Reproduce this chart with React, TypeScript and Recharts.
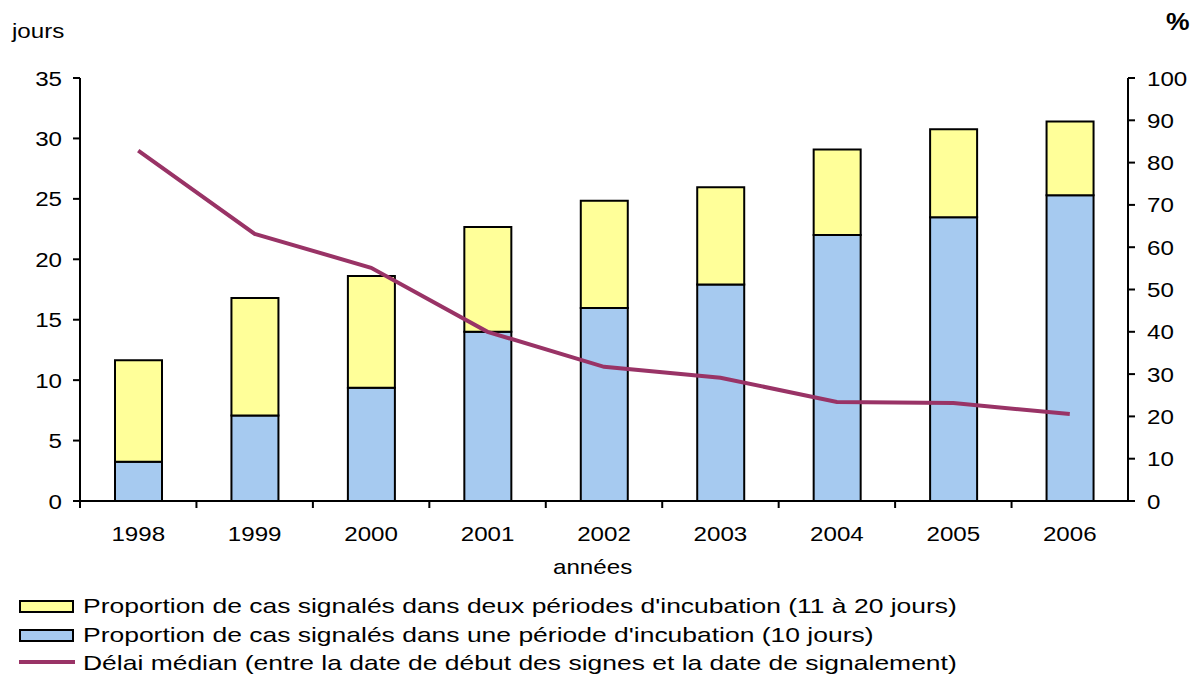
import { ComposedChart, Bar, Line, XAxis, YAxis } from 'recharts';

const years = ['1998', '1999', '2000', '2001', '2002', '2003', '2004', '2005', '2006'];
// % des cas signalés dans une période d'incubation (10 jours)
const unePeriode = [9.3, 20.2, 26.8, 40.0, 45.6, 51.2, 62.9, 67.1, 72.3];
// % des cas signalés dans deux périodes d'incubation (11 à 20 jours)
const deuxPeriodes = [24.0, 27.8, 26.4, 24.8, 25.4, 23.0, 20.2, 20.8, 17.4];
// délai médian en jours
const delaiMedian = [29.0, 22.1, 19.3, 14.0, 11.1, 10.2, 8.2, 8.1, 7.2];

const joursTicks = [0, 5, 10, 15, 20, 25, 30, 35];
const pctTicks = [0, 10, 20, 30, 40, 50, 60, 70, 80, 90, 100];

const data = years.map((y, i) => ({
    annee: y,
    une: unePeriode[i],
    deux: deuxPeriodes[i],
    delai: delaiMedian[i],
}));

const W = 1199;
const H = 560;
const LEFT = 80;
const RIGHT = 71;
const FONT = '"Liberation Sans", Arial, sans-serif';
const SX = 1.15;
const SX_LEGEND = 1.26;
const band = (W - LEFT - RIGHT) / years.length;

const YTick = (props: any) => {
    const { x, y, payload, textAnchor } = props;
    return (
        <text
            transform={`translate(${x},${y}) scale(${SX},1)`}
            dy="0.36em"
            textAnchor={textAnchor}
            fontFamily={FONT}
            fontSize={21}
            fill="#000"
        >
            {payload.value}
        </text>
    );
};

const XTick = (props: any) => {
    const { x, y, payload } = props;
    const bx = x - band / 2;
    return (
        <g>
            <line x1={bx} y1={y} x2={bx} y2={y + 7} stroke="#000" strokeWidth={2} />
            <text
                transform={`translate(${x},${y + 40}) scale(${SX},1)`}
                textAnchor="middle"
                fontFamily={FONT}
                fontSize={21}
                fill="#000"
            >
                {payload.value}
            </text>
        </g>
    );
};

const legendRows = [
    { label: "Proportion de cas signalés dans deux périodes d'incubation (11 à 20 jours)", color: '#FFFF99', kind: 'box' },
    { label: "Proportion de cas signalés dans une période d'incubation (10 jours)", color: '#A6CAF0', kind: 'box' },
    { label: 'Délai médian (entre la date de début des signes et la date de signalement)', color: '#993366', kind: 'line' },
];

const txt = (extra: any, sx = SX) => ({
    position: 'absolute' as const,
    fontFamily: FONT,
    fontSize: 21,
    lineHeight: '24px',
    color: '#000',
    whiteSpace: 'nowrap' as const,
    transform: `scaleX(${sx})`,
    transformOrigin: 'left top',
    ...extra,
});

export default function App() {
    return (
        <div style={{ position: 'absolute', left: 0, top: 0, width: W, height: 677, background: '#fff' }}>
            <ComposedChart
                width={W}
                height={H}
                data={data}
                margin={{ top: 78, right: 0, bottom: 0, left: 0 }}
                barSize={47}
            >
                <XAxis
                    dataKey="annee"
                    height={59}
                    axisLine={{ stroke: '#000', strokeWidth: 2 }}
                    tickLine={false}
                    tickSize={0}
                    tickMargin={0}
                    tick={<XTick />}
                    interval={0}
                />
                <YAxis
                    yAxisId="jours"
                    width={LEFT}
                    domain={[0, 35]}
                    ticks={joursTicks}
                    interval={0}
                    axisLine={{ stroke: '#000', strokeWidth: 2 }}
                    tickLine={{ stroke: '#000', strokeWidth: 2 }}
                    tickSize={7}
                    tickMargin={11}
                    tick={<YTick />}
                />
                <YAxis
                    yAxisId="pct"
                    orientation="right"
                    width={RIGHT}
                    domain={[0, 100]}
                    ticks={pctTicks}
                    interval={0}
                    axisLine={{ stroke: '#000', strokeWidth: 2 }}
                    tickLine={{ stroke: '#000', strokeWidth: 2 }}
                    tickSize={7}
                    tickMargin={12}
                    tick={<YTick />}
                />
                <Bar yAxisId="pct" dataKey="une" stackId="a" fill="#A6CAF0" stroke="#000" strokeWidth={2} isAnimationActive={false} />
                <Bar yAxisId="pct" dataKey="deux" stackId="a" fill="#FFFF99" stroke="#000" strokeWidth={2} isAnimationActive={false} />
                <Line
                    yAxisId="jours"
                    type="linear"
                    dataKey="delai"
                    stroke="#993366"
                    strokeWidth={4}
                    dot={false}
                    isAnimationActive={false}
                />
            </ComposedChart>

            <div style={txt({ left: 12, top: 19 })}>jours</div>
            <div style={txt({ left: 1166, top: 10, fontWeight: 'bold', fontSize: 23 })}>%</div>
            <div style={txt({ left: 553, top: 555 })}>années</div>

            {legendRows.map((r, i) => {
                const top = 594 + i * 28.6;
                return (
                    <div key={r.label}>
                        {r.kind === 'box' ? (
                            <div
                                style={{
                                    position: 'absolute',
                                    left: 19,
                                    top: top + 6,
                                    width: 51,
                                    height: 9,
                                    background: r.color,
                                    border: '2px solid #000',
                                }}
                            />
                        ) : (
                            <div
                                style={{
                                    position: 'absolute',
                                    left: 19,
                                    top: top + 9,
                                    width: 56,
                                    height: 4,
                                    background: r.color,
                                }}
                            />
                        )}
                        <div style={txt({ left: 83, top }, SX_LEGEND)}>{r.label}</div>
                    </div>
                );
            })}
        </div>
    );
}
